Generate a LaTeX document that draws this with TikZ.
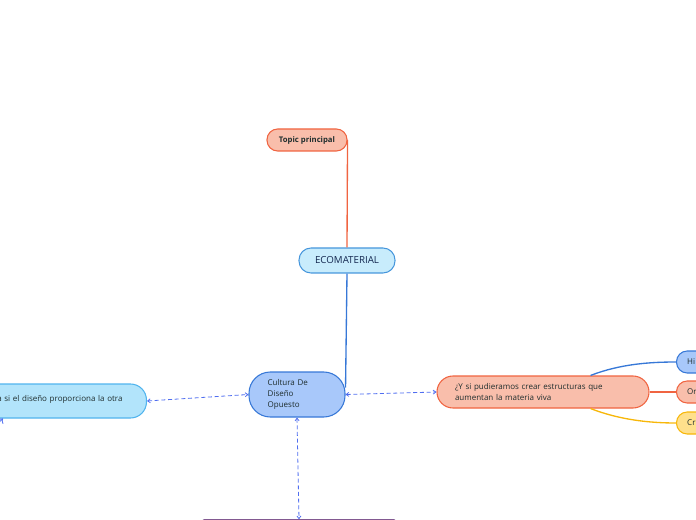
\documentclass[tikz,border=0pt]{standalone}
\usepackage{fontspec}
\setmainfont{Open Sans}
\definecolor{mapsalmon}{RGB}{249, 190, 171}
\definecolor{maporange}{RGB}{240, 100, 65}
\definecolor{mapsky}{RGB}{200, 236, 252}
\definecolor{mapskyline}{RGB}{70, 150, 220}
\definecolor{mapcyan}{RGB}{178, 228, 251}
\definecolor{mapcyanline}{RGB}{80, 180, 238}
\definecolor{mapblue}{RGB}{168, 200, 250}
\definecolor{mapblueline}{RGB}{55, 120, 215}
\definecolor{mapyellow}{RGB}{255, 224, 140}
\definecolor{mapgold}{RGB}{247, 183, 10}
\definecolor{mapdash}{RGB}{80, 110, 240}
\definecolor{mappurple}{RGB}{75, 16, 96}
\definecolor{maptext}{RGB}{30, 45, 45}
\definecolor{mapnavy}{RGB}{20, 40, 80}
\usetikzlibrary{arrows.meta, calc}
\tikzset{
    topicbox/.style={draw, rectangle, line width=0.8pt, font=\fontsize{6}{8.5}\selectfont, text=maptext, align=left, inner ysep=0pt},
    salmonbox/.style={topicbox, fill=mapsalmon, draw=maporange},
    skybox/.style={topicbox, fill=mapsky, draw=mapskyline},
    cyanbox/.style={topicbox, fill=mapcyan, draw=mapcyanline},
    bluebox/.style={topicbox, fill=mapblue, draw=mapblueline},
    yellowbox/.style={topicbox, fill=mapyellow, draw=mapgold},
    sidebox/.style={minimum height=16.5pt, rounded corners=8pt, text width=40pt, inner xsep=8pt, anchor=west},
    branch/.style={line width=1pt},
    linkarrow/.style={{Straight Barb[length=2pt,width=3pt]}-{Straight Barb[length=2pt,width=3pt]}, densely dashed, draw=mapdash, line width=0.6pt},
}

\begin{document}
\begin{tikzpicture}[x=0.75pt, y=-0.75pt]
    \useasboundingbox (0,0) rectangle (696,520);
    \clip (0,0) rectangle (696,520);

    \node[salmonbox, minimum width=60pt, minimum height=16.5pt, rounded corners=8pt, font=\fontsize{5.8}{7}\selectfont\bfseries, align=center] (topic) at (307,140) {Topic principal};
    \node[skybox, minimum width=72pt, minimum height=18.75pt, rounded corners=9pt, font=\fontsize{7.3}{9}\selectfont, text=mapnavy, align=center] (eco) at (347,260.5) {ECOMATERIAL};
    \node[bluebox, text width=44pt, inner xsep=14pt, minimum height=33.75pt, rounded corners=16pt] (cultura) at (297,394.5)
          {Cultura De\\Diseño\\Opuesto};
    \node[cyanbox, anchor=east, text width=160pt, align=right, inner xsep=18pt, minimum height=25.5pt, rounded corners=12pt] (otra) at (147,401)
          {\raisebox{3.5pt}{a si el diseño proporciona la otra}};
    \node[salmonbox, text width=132pt, inner xsep=13.5pt, minimum height=24pt, rounded corners=12pt] (yq) at (543,392)
          {¿Y si pudieramos crear estructuras que\\aumentan la materia viva};
    \node[bluebox, sidebox] (hi) at (676,362) {Hi};
    \node[salmonbox, sidebox] (or) at (676,392) {Or};
    \node[yellowbox, sidebox] (cr) at (676,423) {Cr};
    \node[topicbox, draw=mappurple, fill=mappurple, minimum width=146pt, minimum height=24pt, rounded corners=2pt, anchor=north] (abajo) at (299,519.3) {};
    \coordinate (suelto) at (-25,445);

    % ramas
    \draw[branch, draw=maporange] (topic.east) -- (eco.north);
    \draw[branch, draw=mapblueline] (eco.south) -- ($(cultura.east)+(0,-7)$);
    \draw[branch, draw=mapblueline] ($(yq.north east)+(-59,0)$) .. controls (620,364) and (650,362) .. (hi.west);
    \draw[branch, draw=maporange, line width=1.6pt] (yq.east) -- (or.west);
    \draw[branch, draw=mapgold] ($(yq.south east)+(-59,0)$) .. controls (620,420) and (650,423) .. (cr.west);

    % enlaces
    \draw[linkarrow] (otra.east) -- (cultura.west);
    \draw[linkarrow] (cultura.east) -- (yq.west);
    \draw[linkarrow] (cultura.south) -- (abajo.north);
    \draw[linkarrow, <-] (otra.south west -| 3,0) -- (suelto);
\end{tikzpicture}
\end{document}
